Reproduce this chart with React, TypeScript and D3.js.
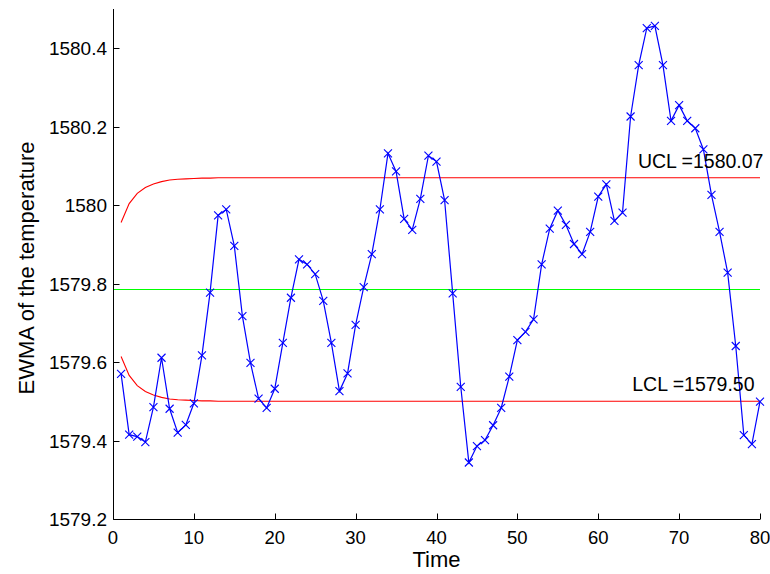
import React from "react";
import * as d3 from "d3";

// EWMA statistic for each sample (t = 1..80)
const ewma: number[] = [
  1579.570, 1579.415, 1579.410, 1579.396, 1579.485, 1579.611, 1579.481, 1579.420, 1579.440, 1579.495,
  1579.617, 1579.777, 1579.974, 1579.989, 1579.896, 1579.717, 1579.598, 1579.507, 1579.483, 1579.532,
  1579.649, 1579.764, 1579.862, 1579.849, 1579.824, 1579.756, 1579.649, 1579.526, 1579.571, 1579.695,
  1579.791, 1579.875, 1579.989, 1580.132, 1580.086, 1579.965, 1579.937, 1580.016, 1580.126, 1580.111,
  1580.013, 1579.775, 1579.537, 1579.344, 1579.386, 1579.401, 1579.439, 1579.483, 1579.563, 1579.656,
  1579.677, 1579.709, 1579.849, 1579.940, 1579.986, 1579.950, 1579.901, 1579.875, 1579.932, 1580.022,
  1580.053, 1579.960, 1579.981, 1580.226, 1580.357, 1580.451, 1580.457, 1580.357, 1580.215, 1580.255,
  1580.215, 1580.196, 1580.142, 1580.026, 1579.932, 1579.828, 1579.641, 1579.414, 1579.391, 1579.499,
];

// Control limits: start-up values for the first samples, then the steady-state limit
const uclStart: number[] = [
  1579.956, 1580.004, 1580.030, 1580.045, 1580.054, 1580.060, 1580.064,
  1580.066, 1580.067, 1580.068, 1580.069, 1580.069, 1580.070,
];
const lclStart: number[] = [
  1579.614, 1579.566, 1579.540, 1579.525, 1579.516, 1579.510, 1579.506,
  1579.504, 1579.503, 1579.502, 1579.501, 1579.501, 1579.500,
];
const uclSteady = 1580.07;
const lclSteady = 1579.5;
const centerLine = 1579.785;

const xTicks: number[] = [0, 10, 20, 30, 40, 50, 60, 70, 80];
const yTicks: number[] = [1579.2, 1579.4, 1579.6, 1579.8, 1580, 1580.2, 1580.4];
const yTickLabels: string[] = ["1579.2", "1579.4", "1579.6", "1579.8", "1580", "1580.2", "1580.4"];

const xLabel = "Time";
const yLabel = "EWMA of the temperature";

const FONT = "'Liberation Sans', Arial, Helvetica, sans-serif";

export default function App() {
  const width = 770;
  const height = 574;
  const left = 113;
  const right = 760;
  const top = 9;
  const bottom = 519;
  const nSamples = ewma.length;

  const x = d3.scaleLinear().domain([0, 80]).range([left, right]);
  const y = d3.scaleLinear().domain([1579.2, 1580.5]).range([bottom, top]);

  const line = d3
    .line<[number, number]>()
    .x((d) => x(d[0]))
    .y((d) => y(d[1]));

  const ewmaPts: [number, number][] = ewma.map((v, i) => [i + 1, v]);
  const uclPts: [number, number][] = [
    ...uclStart.map((v, i) => [i + 1, v] as [number, number]),
    [nSamples, uclSteady],
  ];
  const lclPts: [number, number][] = [
    ...lclStart.map((v, i) => [i + 1, v] as [number, number]),
    [nSamples, lclSteady],
  ];

  const ax = Math.round(left) + 0.5;
  const ay = Math.round(bottom) + 0.5;
  const cy = Math.round(y(centerLine)) + 0.5;
  const tickLen = 6;
  const m = 4; // half size of the x markers

  return (
    <svg
      width={width}
      height={height}
      style={{ position: "absolute", left: 0, top: 0, background: "#fff" }}
      fontFamily={FONT}
    >
      <rect x={0} y={0} width={width} height={height} fill="#fff" />

      {/* center line */}
      <line x1={x(0)} x2={x(80)} y1={cy} y2={cy} stroke="#00ff00" strokeWidth={1} />

      {/* control limits */}
      <path d={line(uclPts) || ""} fill="none" stroke="#ff0000" strokeWidth={1.1} />
      <path d={line(lclPts) || ""} fill="none" stroke="#ff0000" strokeWidth={1.1} />

      {/* EWMA series */}
      <path d={line(ewmaPts) || ""} fill="none" stroke="#0000ff" strokeWidth={1.2} />
      {ewmaPts.map(([t, v]) => (
        <path
          key={t}
          transform={`translate(${x(t)},${y(v)})`}
          d={`M${-m},${-m}L${m},${m}M${-m},${m}L${m},${-m}`}
          stroke="#0000ff"
          strokeWidth={1.1}
          fill="none"
        />
      ))}

      {/* limit labels */}
      <text x={x(64.9)} y={y(uclSteady) - 10} fontSize={19.5} fill="#000">
        {`UCL =${uclSteady.toFixed(2)}`}
      </text>
      <text x={x(64.2)} y={y(lclSteady) - 10} fontSize={19.5} fill="#000">
        {`LCL =${lclSteady.toFixed(2)}`}
      </text>

      {/* axes */}
      <line x1={ax} x2={ax} y1={top} y2={ay} stroke="#000" strokeWidth={1} />
      <line x1={ax} x2={right} y1={ay} y2={ay} stroke="#000" strokeWidth={1} />

      {xTicks.map((t) => {
        const px = Math.round(x(t)) + 0.5;
        return (
          <g key={`xt${t}`}>
            <line x1={px} x2={px} y1={ay} y2={ay - tickLen} stroke="#000" strokeWidth={1} />
            <text x={x(t)} y={544} fontSize={18.5} textAnchor="middle" fill="#000">
              {String(t)}
            </text>
          </g>
        );
      })}

      {yTicks.map((v, i) => {
        const py = Math.round(y(v)) + 0.5;
        return (
          <g key={`yt${i}`}>
            <line x1={ax} x2={ax + tickLen} y1={py} y2={py} stroke="#000" strokeWidth={1} />
            <text
              x={107}
              y={y(v) + 7}
              fontSize={19}
              textAnchor="end"
              fill="#000"
            >
              {yTickLabels[i]}
            </text>
          </g>
        );
      })}

      {/* axis titles */}
      <text x={(left + right) / 2} y={567} fontSize={22} textAnchor="middle" fill="#000">
        {xLabel}
      </text>
      <text
        transform={`translate(34,${(top + bottom) / 2 + 4}) rotate(-90)`}
        fontSize={22}
        textAnchor="middle"
        fill="#000"
      >
        {yLabel}
      </text>
    </svg>
  );
}
